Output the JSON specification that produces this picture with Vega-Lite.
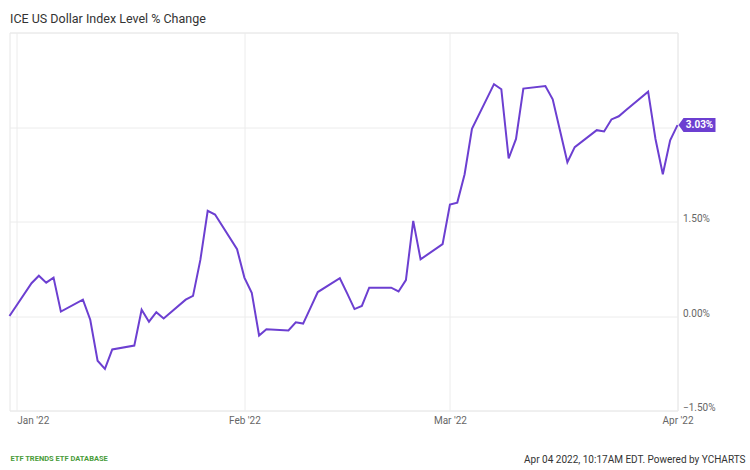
{
  "$schema": "https://vega.github.io/schema/vega-lite/v6.json",
  "width": 668,
  "height": 378,
  "autosize": "none",
  "padding": {"left": 9.5, "top": 32.5, "right": 72.5, "bottom": 59.5},
  "background": "white",
  "title": {
    "text": "ICE US Dollar Index Level % Change",
    "anchor": "start",
    "frame": "group",
    "dx": 0.5,
    "offset": 7,
    "font": "Roboto",
    "fontSize": 12.5,
    "fontWeight": "normal",
    "color": "#333333"
  },
  "config": {
    "view": {"stroke": "#e6e6e6"},
    "font": "Roboto"
  },
  "data": {
    "values": [
      {"date": "2021-12-31", "pct": 0.00},
      {"date": "2022-01-03", "pct": 0.52},
      {"date": "2022-01-04", "pct": 0.64},
      {"date": "2022-01-05", "pct": 0.53},
      {"date": "2022-01-06", "pct": 0.61},
      {"date": "2022-01-07", "pct": 0.07},
      {"date": "2022-01-10", "pct": 0.26},
      {"date": "2022-01-11", "pct": -0.06},
      {"date": "2022-01-12", "pct": -0.71},
      {"date": "2022-01-13", "pct": -0.84},
      {"date": "2022-01-14", "pct": -0.53},
      {"date": "2022-01-17", "pct": -0.47},
      {"date": "2022-01-18", "pct": 0.10},
      {"date": "2022-01-19", "pct": -0.09},
      {"date": "2022-01-20", "pct": 0.06},
      {"date": "2022-01-21", "pct": -0.04},
      {"date": "2022-01-24", "pct": 0.26},
      {"date": "2022-01-25", "pct": 0.32},
      {"date": "2022-01-26", "pct": 0.89},
      {"date": "2022-01-27", "pct": 1.67},
      {"date": "2022-01-28", "pct": 1.61},
      {"date": "2022-01-31", "pct": 1.06},
      {"date": "2022-02-01", "pct": 0.61},
      {"date": "2022-02-02", "pct": 0.37},
      {"date": "2022-02-03", "pct": -0.31},
      {"date": "2022-02-04", "pct": -0.21},
      {"date": "2022-02-07", "pct": -0.23},
      {"date": "2022-02-08", "pct": -0.10},
      {"date": "2022-02-09", "pct": -0.12},
      {"date": "2022-02-10", "pct": 0.13},
      {"date": "2022-02-11", "pct": 0.38},
      {"date": "2022-02-14", "pct": 0.60},
      {"date": "2022-02-15", "pct": 0.36},
      {"date": "2022-02-16", "pct": 0.11},
      {"date": "2022-02-17", "pct": 0.16},
      {"date": "2022-02-18", "pct": 0.45},
      {"date": "2022-02-21", "pct": 0.45},
      {"date": "2022-02-22", "pct": 0.39},
      {"date": "2022-02-23", "pct": 0.57},
      {"date": "2022-02-24", "pct": 1.51},
      {"date": "2022-02-25", "pct": 0.90},
      {"date": "2022-02-28", "pct": 1.14},
      {"date": "2022-03-01", "pct": 1.77},
      {"date": "2022-03-02", "pct": 1.80},
      {"date": "2022-03-03", "pct": 2.25},
      {"date": "2022-03-04", "pct": 2.97},
      {"date": "2022-03-07", "pct": 3.68},
      {"date": "2022-03-08", "pct": 3.60},
      {"date": "2022-03-09", "pct": 2.50},
      {"date": "2022-03-10", "pct": 2.81},
      {"date": "2022-03-11", "pct": 3.61},
      {"date": "2022-03-14", "pct": 3.65},
      {"date": "2022-03-15", "pct": 3.44},
      {"date": "2022-03-16", "pct": 2.94},
      {"date": "2022-03-17", "pct": 2.44},
      {"date": "2022-03-18", "pct": 2.68},
      {"date": "2022-03-21", "pct": 2.95},
      {"date": "2022-03-22", "pct": 2.93},
      {"date": "2022-03-23", "pct": 3.12},
      {"date": "2022-03-24", "pct": 3.17},
      {"date": "2022-03-25", "pct": 3.27},
      {"date": "2022-03-28", "pct": 3.56},
      {"date": "2022-03-29", "pct": 2.81},
      {"date": "2022-03-30", "pct": 2.25},
      {"date": "2022-03-31", "pct": 2.79},
      {"date": "2022-04-01", "pct": 3.03}
    ]
  },
  "layer": [
    {
      "mark": {"type": "line", "color": "#6c3fd1", "strokeWidth": 2, "clip": false},
      "encoding": {
        "x": {
          "field": "date",
          "type": "temporal",
          "scale": {
            "type": "utc",
            "domain": [
              {"year": 2021, "month": 12, "date": 31, "utc": true},
              {"year": 2022, "month": 4, "date": 1, "utc": true}
            ]
          },
          "axis": {
            "values": [
              {"year": 2022, "month": 1, "date": 1, "utc": true},
              {"year": 2022, "month": 2, "date": 1, "utc": true},
              {"year": 2022, "month": 3, "date": 1, "utc": true},
              {"year": 2022, "month": 4, "date": 1, "utc": true}
            ],
            "labelExpr": "utcFormat(datum.value, \"%b '%y\")",
            "grid": true,
            "gridColor": "#ececec",
            "domain": false,
            "ticks": false,
            "tickSize": 0,
            "labelPadding": 5,
            "labelFlush": false,
            "labelFontSize": 10,
            "labelColor": "#666666",
            "labelAlign": {"condition": {"test": "datum.value < 1641100000000", "value": "left"}, "value": "center"},
            "title": "ETF TRENDS   ETF DATABASE",
            "titleX": 0.5,
            "titleY": 49.5,
            "titleAlign": "left",
            "titleBaseline": "alphabetic",
            "titleFontSize": 7.5,
            "titleFontWeight": "bold",
            "titleColor": "#4a9c3a"
          }
        },
        "y": {
          "field": "pct",
          "type": "quantitative",
          "scale": {"domain": [-1.5, 4.5], "nice": false, "zero": false},
          "axis": {
            "orient": "right",
            "values": [-1.5, 0, 1.5, 3, 4.5],
            "labelExpr": "datum.value >= 3 ? '' : format(datum.value, '.2f') + '%'",
            "grid": true,
            "gridColor": "#ececec",
            "domain": false,
            "ticks": false,
            "tickSize": 0,
            "labelPadding": 5,
            "labelBaseline": "alphabetic",
            "labelFontSize": 10,
            "labelColor": "#666666",
            "title": "Apr 04 2022, 10:17AM EDT. Powered by YCHARTS",
            "titleAngle": 0,
            "titleX": 67.5,
            "titleY": 429.5,
            "titleAlign": "right",
            "titleBaseline": "alphabetic",
            "titleFontSize": 10,
            "titleFontWeight": "normal",
            "titleColor": "#333333"
          }
        }
      }
    },
    {
      "data": {"values": [{"date": "2022-04-01", "pct": 3.03, "label": "3.03%"}]},
      "mark": {
        "type": "point",
        "shape": "M0.025,0 L0.15,-0.175 L0.95,-0.175 L0.95,0.175 L0.15,0.175 Z",
        "size": 6400,
        "filled": true,
        "fill": "#6c3fd1",
        "opacity": 1,
        "strokeWidth": 0,
        "clip": false
      },
      "encoding": {
        "x": {"field": "date", "type": "temporal"},
        "y": {"field": "pct", "type": "quantitative"}
      }
    },
    {
      "data": {"values": [{"date": "2022-04-01", "pct": 3.03, "label": "3.03%"}]},
      "mark": {
        "type": "text",
        "dx": 22,
        "align": "center",
        "baseline": "middle",
        "color": "white",
        "fontWeight": "bold",
        "fontSize": 10,
        "clip": false
      },
      "encoding": {
        "x": {"field": "date", "type": "temporal"},
        "y": {"field": "pct", "type": "quantitative"},
        "text": {"field": "label"}
      }
    }
  ]
}
